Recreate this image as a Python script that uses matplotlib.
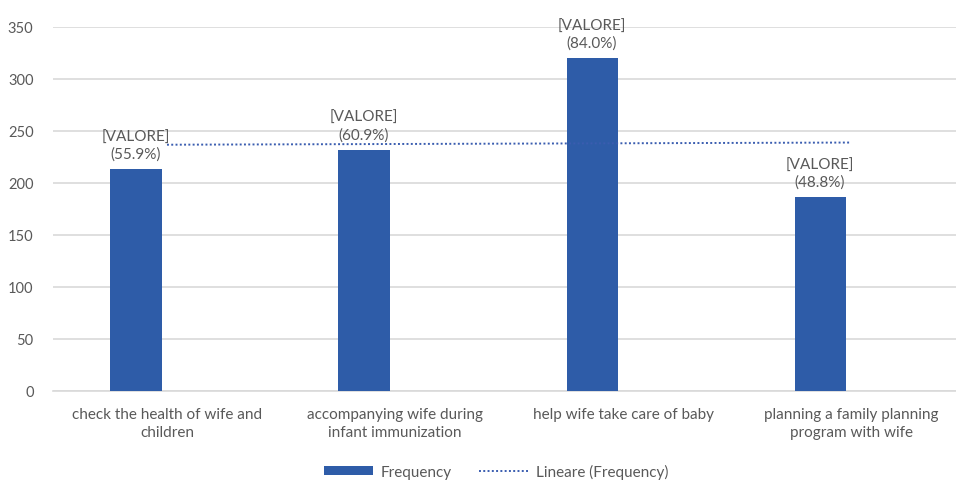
import numpy as np
import matplotlib.pyplot as plt

categories = ['check the health of wife and\nchildren',
              'accompanying wife during\ninfant immunization',
              'help wife take care of baby',
              'planning a family planning\nprogram with wife']
frequency = [213, 232, 320, 186]
percent = [55.9, 60.9, 84.0, 48.8]

plt.rcParams['font.family'] = ['Lato', 'DejaVu Sans']
text_col = '#595959'
bar_col = '#2E5CA8'

fig = plt.figure(figsize=(9.56, 4.81), dpi=100)
ax = fig.add_axes([0.0554, 0.1857, 0.9446, 0.7561])

x = np.arange(len(categories))
bars = ax.bar(x - 0.136, frequency, width=0.224, color=bar_col, label='Frequency', zorder=3)

# linear trendline like excel
k, b = np.polyfit(x + 1, frequency, 1)
trend, = ax.plot(x, k * (x + 1) + b, linestyle=(0, (1, 1.2)), color='#3A5DB0', lw=1.4,
                 label='Lineare (Frequency)', zorder=4)

for xi, v, p in zip(x, frequency, percent):
    ax.annotate('[VALORE]\n(%.1f%%)' % p, (xi - 0.136, v), xytext=(0, 6),
                textcoords='offset points', ha='center', va='bottom',
                fontsize=11, color=text_col, linespacing=1.25, annotation_clip=False)

ax.set_xlim(-0.5, 3.46)
ax.set_ylim(0, 350)
ax.set_yticks(range(0, 351, 50))
ax.yaxis.grid(True, color='#D9D9D9', lw=1.2, zorder=0)
ax.set_xticks(x)
ax.set_xticklabels(categories, fontsize=11, color=text_col, linespacing=1.3)
ax.tick_params(axis='y', labelsize=10.5, labelcolor=text_col, length=0, pad=14)
ax.tick_params(axis='x', length=0, pad=12)
for s in ['top', 'right', 'left']:
    ax.spines[s].set_visible(False)
ax.spines['bottom'].set_color('#D9D9D9')
ax.spines['bottom'].set_linewidth(1.2)

fig.legend([bars, trend], ['Frequency', 'Lineare (Frequency)'], loc='center',
           bbox_to_anchor=(496 / 956, 1 - 472 / 481), ncol=2,
           frameon=False, fontsize=11, labelcolor=text_col, handlelength=3.2,
           handletextpad=0.5, columnspacing=1.8, handleheight=0.55)

fig.savefig('out.png', dpi=100)
